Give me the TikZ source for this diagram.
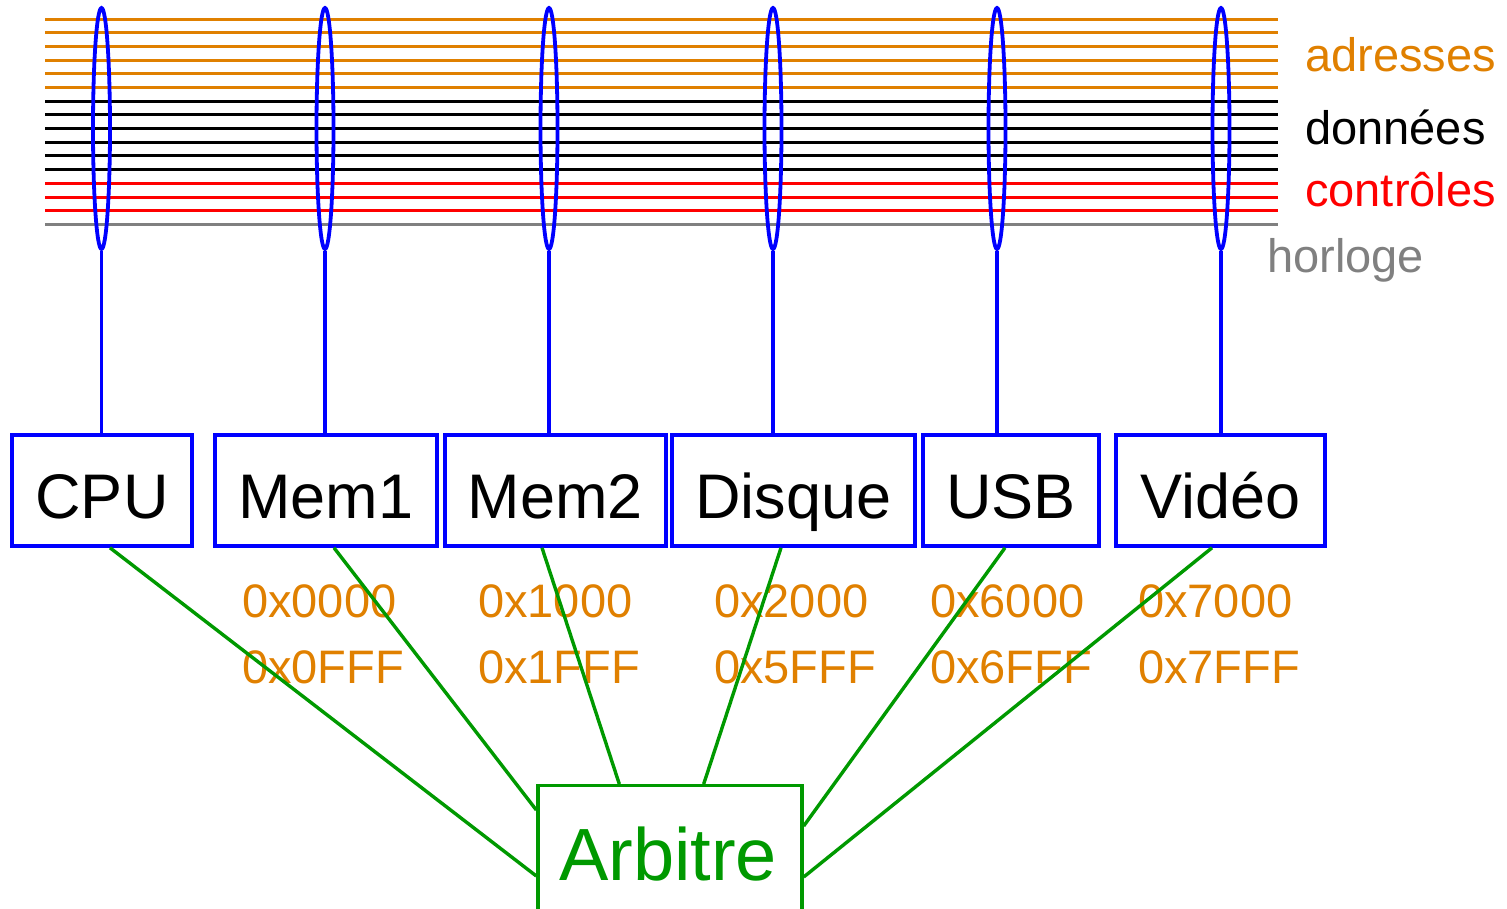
\documentclass[tikz,border=0pt]{standalone}
\usepackage{fontspec}
\setmainfont{Liberation Sans}
\usetikzlibrary{shapes.geometric}
\definecolor{addrorange}{RGB}{224,128,0}
\definecolor{busblue}{RGB}{0,0,255}
\definecolor{arbgreen}{RGB}{0,153,0}
\definecolor{clkgray}{RGB}{128,128,128}
\definecolor{ctlred}{RGB}{255,0,0}

\begin{document}
\begin{tikzpicture}[x=1pt,y=-1pt,
  wire/.style={line width=3pt},
  tap/.style={draw=busblue, line width=3.8pt, ellipse, minimum width=17pt,
    minimum height=241pt, inner sep=0pt},
  drop/.style={draw=busblue, line width=3.6pt},
  unit/.style={draw=busblue, line width=3.6pt, rectangle, minimum height=111pt,
    inner sep=0pt, text height=55pt, text depth=0pt,
    font=\fontsize{63}{70}\selectfont},
  grant/.style={draw=arbgreen, line width=3.4pt},
  addrlabel/.style={anchor=base west, text=addrorange, inner sep=0pt,
    font=\fontsize{47}{56}\selectfont},
  buslabel/.style={anchor=base west, inner sep=0pt,
    font=\fontsize{47}{56}\selectfont}]

\useasboundingbox (0,0) rectangle (1507,909);
\clip (0,0) rectangle (1507,909);

% bus wires: 6 address, 6 data, 3 control, 1 clock
\foreach \i in {0,...,5}
  \draw[wire, addrorange] (45,{19.3+13.67*\i}) -- (1278,{19.3+13.67*\i});
\foreach \i in {6,...,11}
  \draw[wire, black] (45,{19.3+13.67*\i}) -- (1278,{19.3+13.67*\i});
\foreach \i in {12,...,14}
  \draw[wire, ctlred] (45,{19.3+13.67*\i}) -- (1278,{19.3+13.67*\i});
\draw[wire, clkgray] (45,224.3) -- (1278,224.3);

% bus labels
\node[buslabel, text=addrorange] (lbaddr) at (1305,72) {adresses};
\node[buslabel, text=black] (lbdata) at (1305,145) {données};
\node[buslabel, text=ctlred] (lbctl) at (1305,207) {contrôles};
\node[buslabel, text=clkgray] (lbclk) at (1267,273) {horloge};

% bus taps
\node[tap] (e1) at (101.5,128.5) {};
\node[tap] (e2) at (325,128.5) {};
\node[tap] (e3) at (549,128.5) {};
\node[tap] (e4) at (773,128.5) {};
\node[tap] (e5) at (997,128.5) {};
\node[tap] (e6) at (1221,128.5) {};

% devices
\node[unit, minimum width=180pt] (cpu) at (102,490.5) {CPU};
\node[unit, minimum width=222pt] (mem1) at (326,490.5) {Mem1};
\node[unit, minimum width=221pt] (mem2) at (555.5,490.5) {Mem2};
\node[unit, minimum width=243pt] (disk) at (793.5,490.5) {Disque};
\node[unit, minimum width=176pt] (usb) at (1011,490.5) {USB};
\node[unit, minimum width=209pt] (video) at (1220.5,490.5) {Vidéo};

% device to bus
\draw[drop] (e1.south) -- (e1.south |- cpu.north);
\draw[drop] (e2.south) -- (e2.south |- mem1.north);
\draw[drop] (e3.south) -- (e3.south |- mem2.north);
\draw[drop] (e4.south) -- (e4.south |- disk.north);
\draw[drop] (e5.south) -- (e5.south |- usb.north);
\draw[drop] (e6.south) -- (e6.south |- video.north);

% address ranges
\node[addrlabel] (r1a) at (242,617) {0x0000};
\node[addrlabel] (r1b) at (242,683) {0x0FFF};
\node[addrlabel] (r2a) at (478,617) {0x1000};
\node[addrlabel] (r2b) at (478,683) {0x1FFF};
\node[addrlabel] (r3a) at (714,617) {0x2000};
\node[addrlabel] (r3b) at (714,683) {0x5FFF};
\node[addrlabel] (r4a) at (930,617) {0x6000};
\node[addrlabel] (r4b) at (930,683) {0x6FFF};
\node[addrlabel] (r5a) at (1138,617) {0x7000};
\node[addrlabel] (r5b) at (1138,683) {0x7FFF};

% arbiter
\node[draw=arbgreen, line width=3.4pt, rectangle, minimum width=264pt,
  minimum height=250pt, anchor=north, inner sep=0pt] (arb) at (670,784) {};
\node[anchor=base, text=arbgreen, inner sep=0pt,
  font=\fontsize{74}{80}\selectfont] (arbname) at (668,880) {Arbitre};

% arbitration links
\draw[grant] ([xshift=8pt]cpu.south) -- ([yshift=-92pt]arb.north west);
\draw[grant] ([xshift=8pt]mem1.south) -- ([yshift=-26pt]arb.north west);
\draw[grant] ([xshift=-13.5pt]mem2.south) -- ([xshift=83pt]arb.north west);
\draw[grant] ([xshift=-12.5pt]disk.south) -- ([xshift=-100pt]arb.north east);
\draw[grant] ([xshift=-6pt]usb.south) -- ([yshift=-42pt]arb.north east);
\draw[grant] ([xshift=-8.5pt]video.south) -- ([yshift=-93pt]arb.north east);
\end{tikzpicture}
\end{document}
